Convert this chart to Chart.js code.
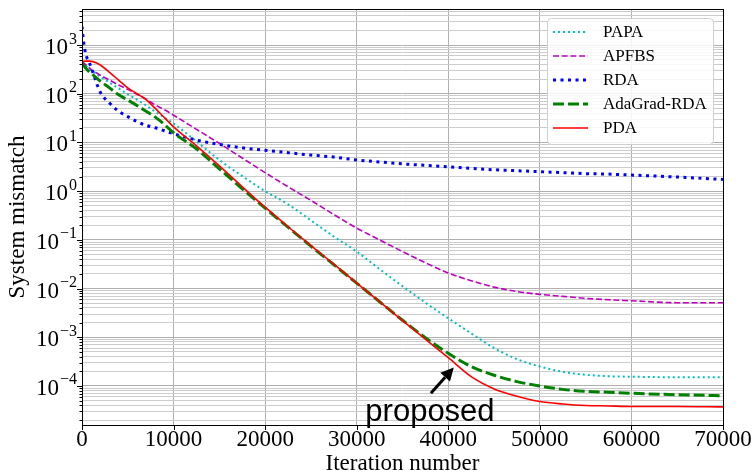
<!DOCTYPE html>
<html>
<head>
<meta charset="utf-8">
<script src="https://cdn.jsdelivr.net/npm/chart.js@4.4.1/dist/chart.umd.min.js"></script>
<style>
  html, body { margin: 0; padding: 0; background: #fff; }
</style>
</head>
<body>
<canvas id="myChart" width="753" height="474"></canvas>
<script>
const iters = [0, 150, 400, 800, 1200, 2000, 3000, 4000, 5000, 6000, 7000, 8000, 9000, 10000,
  12500, 15000, 17500, 20000, 22500, 25000, 27500, 30000, 32500, 35000, 37500, 40000,
  42500, 45000, 47500, 50000, 52500, 55000, 57500, 60000, 65000, 70000];

const papa = [437, 417, 380, 324, 288, 224, 170, 129, 97.7, 75.9, 57.5, 42.7, 32.4, 24.5,
  10.5, 4.37, 2.04, 1.0, 0.537, 0.251, 0.117, 0.0575, 0.0251, 0.0112, 0.00513, 0.00245,
  1.2e-3, 6.03e-4, 3.55e-4, 2.51e-4, 1.95e-4, 1.7e-4, 1.58e-4, 1.55e-4, 1.51e-4, 1.51e-4];

const apfbs = [457, 437, 398, 339, 295, 240, 191, 151, 123, 97.7, 77.6, 58.9, 46.8, 36.3,
  18.6, 9.55, 4.79, 2.4, 1.23, 0.646, 0.331, 0.174, 0.1, 0.0575, 0.0339, 0.0209,
  0.0145, 0.0107, 0.0087, 0.00759, 0.00692, 0.00631, 0.00589, 0.00562, 0.00513, 0.00513];

const rda = [2400, 1260, 661, 436, 269, 107, 64.6, 43.7, 33.9, 26.9, 22.4, 20.0, 17.4, 15.1,
  11.2, 9.12, 7.76, 6.92, 6.17, 5.5, 5.01, 4.37, 3.98, 3.63, 3.39, 3.16,
  2.95, 2.75, 2.63, 2.51, 2.4, 2.29, 2.24, 2.14, 1.95, 1.74];

const adagrad = [417, 389, 339, 282, 245, 182, 132, 95.5, 74.1, 57.5, 43.7, 33.1, 23.4, 15.8,
  7.41, 2.88, 1.12, 0.447, 0.182, 0.0741, 0.0309, 0.0129, 0.00537, 0.00224, 9.77e-4, 4.68e-4,
  2.51e-4, 1.66e-4, 1.23e-4, 1.0e-4, 8.51e-5, 7.76e-5, 7.41e-5, 7.08e-5, 6.61e-5, 6.31e-5];

const pda = [457, 462, 468, 468, 457, 389, 275, 191, 132, 100, 75.9, 50.1, 32.4, 20.9,
  8.51, 3.31, 1.23, 0.468, 0.186, 0.0759, 0.0316, 0.0129, 0.00537, 0.00219, 9.12e-4, 3.8e-4,
  1.55e-4, 8.71e-5, 6.17e-5, 4.79e-5, 4.27e-5, 3.98e-5, 3.89e-5, 3.8e-5, 3.8e-5, 3.72e-5];

const seriesNames = ['PAPA', 'APFBS', 'RDA', 'AdaGrad-RDA', 'PDA'];
const xTicks = [0, 10000, 20000, 30000, 40000, 50000, 60000, 70000];
const yTickExps = [-4, -3, -2, -1, 0, 1, 2, 3];
const yMin = 1.58e-5;
const yMax = 5.5e3;

// "proposed" note and its arrow, in data units
const note = { text: 'proposed', x: 38000, y: 1.9e-5 };
const arrowFrom = { x: 38100, y: 7.1e-5 };
const arrowTo = { x: 40600, y: 2.4e-4 };

const serif = '"Liberation Serif", "Times New Roman", serif';
Chart.defaults.font.family = serif;
Chart.defaults.color = '#000';

// minor + major grid values for the log axis
let yGrid = [];
[-5].concat(yTickExps).forEach(e => {
  for (let m = 1; m <= 9; m++) {
    const v = m * Math.pow(10, e);
    if (v >= yMin && v <= yMax) yGrid.push(v);
  }
});
const isDecade = v => Math.abs(Math.log10(v) - Math.round(Math.log10(v))) < 1e-6;

const pts = arr => iters.map((x, i) => ({ x: x, y: arr[i] }));

const decor = {
  id: 'decor',
  afterDatasetsDraw(chart) {
    const { ctx, chartArea: a } = chart;
    const xs = chart.scales.x, ys = chart.scales.y;
    ctx.save();
    // annotation
    ctx.fillStyle = '#000';
    ctx.font = '31px "Liberation Sans", Arial, sans-serif';
    ctx.textAlign = 'center';
    ctx.textBaseline = 'alphabetic';
    ctx.fillText(note.text, xs.getPixelForValue(note.x), ys.getPixelForValue(note.y));
    const x1 = xs.getPixelForValue(arrowFrom.x), y1 = ys.getPixelForValue(arrowFrom.y);
    const x2 = xs.getPixelForValue(arrowTo.x), y2 = ys.getPixelForValue(arrowTo.y);
    const ang = Math.atan2(y2 - y1, x2 - x1);
    const hl = 13, hw = 6.5;
    const bx = x2 - hl * Math.cos(ang), by = y2 - hl * Math.sin(ang);
    ctx.strokeStyle = '#000';
    ctx.lineWidth = 3;
    ctx.beginPath(); ctx.moveTo(x1, y1); ctx.lineTo(bx, by); ctx.stroke();
    ctx.beginPath();
    ctx.moveTo(x2, y2);
    ctx.lineTo(bx + hw * Math.sin(ang), by - hw * Math.cos(ang));
    ctx.lineTo(bx - hw * Math.sin(ang), by + hw * Math.cos(ang));
    ctx.closePath(); ctx.fill();
    // frame
    ctx.lineWidth = 1;
    ctx.strokeRect(a.left + 0.5, a.top + 0.5, a.right - a.left, a.bottom - a.top);
    // tick marks
    ctx.beginPath();
    xTicks.forEach(v => {
      const px = Math.round(xs.getPixelForValue(v)) + 0.5;
      ctx.moveTo(px, a.bottom); ctx.lineTo(px, a.bottom + 5);
    });
    yGrid.forEach(v => {
      const py = Math.round(ys.getPixelForValue(v)) + 0.5;
      ctx.moveTo(a.left, py); ctx.lineTo(a.left - (isDecade(v) ? 5 : 2.5), py);
    });
    ctx.stroke();
    ctx.restore();
  },
  afterDraw(chart) {
    const { ctx, chartArea: a } = chart;
    const ys = chart.scales.y;
    ctx.save();
    ctx.fillStyle = '#000';
    ctx.textAlign = 'right';
    ctx.textBaseline = 'alphabetic';
    yTickExps.forEach(e => {
      const py = ys.getPixelForValue(Math.pow(10, e));
      const sup = e < 0 ? '\u2212' + (-e) : String(e);
      ctx.font = '16px ' + serif;
      const sw = ctx.measureText(sup).width;
      ctx.fillText(sup, a.left - 5, py - 1.5);
      ctx.font = '23px ' + serif;
      ctx.fillText('10', a.left - 5 - sw - 1, py + 9);
    });
    // axis titles
    ctx.font = '23px ' + serif;
    ctx.textAlign = 'center';
    ctx.fillText('Iteration number', (a.left + a.right) / 2, 470);
    ctx.save();
    ctx.translate(24, (a.top + a.bottom) / 2);
    ctx.rotate(-Math.PI / 2);
    ctx.fillText('System mismatch', 0, 0);
    ctx.restore();
    // legend
    const w = 166, h = 126;
    const x0 = a.right - 10 - w, y0 = a.top + 9;
    ctx.beginPath();
    ctx.roundRect(x0 + 0.5, y0 + 0.5, w, h, 4);
    ctx.fillStyle = 'rgba(255,255,255,0.85)';
    ctx.fill();
    ctx.strokeStyle = '#d0d0d0';
    ctx.lineWidth = 1;
    ctx.stroke();
    ctx.textAlign = 'left';
    ctx.textBaseline = 'middle';
    ctx.font = '17px ' + serif;
    chart.data.datasets.forEach((ds, i) => {
      const ry = y0 + 14 + i * 24;
      ctx.strokeStyle = ds.borderColor;
      ctx.lineWidth = ds.borderWidth;
      ctx.setLineDash(ds.borderDash);
      ctx.beginPath(); ctx.moveTo(x0 + 6, ry); ctx.lineTo(x0 + 41, ry); ctx.stroke();
      ctx.setLineDash([]);
      ctx.fillStyle = '#000';
      ctx.fillText(ds.label, x0 + 56, ry + 1);
    });
    ctx.restore();
  }
};

const ctx = document.getElementById('myChart');
new Chart(ctx, {
  type: 'line',
  data: {
    datasets: [
      { label: seriesNames[0], data: pts(papa), borderColor: '#00bfbf', borderWidth: 2, borderDash: [2, 3], order: 5 },
      { label: seriesNames[1], data: pts(apfbs), borderColor: '#bf00bf', borderWidth: 1.6, borderDash: [6, 2.7], order: 4 },
      { label: seriesNames[2], data: pts(rda), borderColor: '#0000ff', borderWidth: 3, borderDash: [3, 4.5], order: 3 },
      { label: seriesNames[3], data: pts(adagrad), borderColor: '#008000', borderWidth: 3, borderDash: [11, 4], order: 2 },
      { label: seriesNames[4], data: pts(pda), borderColor: '#ff0000', borderWidth: 1.6, borderDash: [], order: 1 }
    ]
  },
  options: {
    responsive: false,
    animation: false,
    events: [],
    layout: { padding: { left: 0, right: 30, top: 9, bottom: 0 } },
    elements: {
      point: { radius: 0 },
      line: { cubicInterpolationMode: 'monotone', fill: false }
    },
    plugins: { legend: { display: false }, tooltip: { enabled: false } },
    scales: {
      x: {
        type: 'linear',
        min: 0,
        max: 70000,
        afterBuildTicks: s => { s.ticks = xTicks.map(v => ({ value: v })); },
        afterFit: s => { s.height = 49; },
        ticks: { font: { size: 23, family: serif }, color: '#000', maxRotation: 0, padding: 1,
          callback: v => String(v) },
        grid: { color: '#b0b0b0', drawTicks: false },
        border: { display: false }
      },
      y: {
        type: 'logarithmic',
        min: yMin,
        max: yMax,
        afterBuildTicks: s => { s.ticks = yGrid.map(v => ({ value: v })); },
        afterFit: s => { s.width = 82; },
        ticks: { display: false },
        grid: { color: c => isDecade(c.tick.value) ? '#b0b0b0' : '#cccccc', drawTicks: false },
        border: { display: false }
      }
    }
  },
  plugins: [decor]
});
</script>
</body>
</html>
